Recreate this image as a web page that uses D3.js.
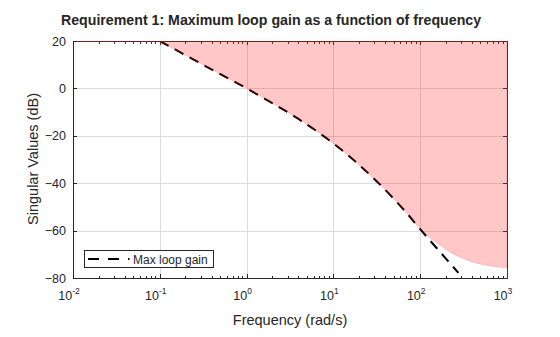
<!DOCTYPE html>
<html>
<head>
<meta charset="utf-8">
<script src="https://cdn.jsdelivr.net/npm/d3@7"></script>
<style>
  body { margin: 0; background: #fff; }
  text { font-family: "Liberation Sans", Arial, Helvetica, sans-serif; fill: #262626; }
</style>
</head>
<body>
<div class="chart"></div>
<script>
var values = { width: 560, height: 337, left: 73, right: 507, top: 41, bottom: 278 };

// frequency grid (rad/s) and the gain bound (dB) - lower edge of the shaded region
var boundFreq = [0.1, 0.3, 1, 2, 4, 7, 10, 15, 20, 30, 50, 70, 100, 130, 170, 220, 300, 400, 550, 750, 1000];
var boundDb   = [20, 10.4, 0, -6.3, -13, -19, -23.2, -28.4, -32.4, -38.4, -46.7, -52.6, -59.2, -63.1, -66.2, -69, -71.5, -73.2, -74.5, -75.3, -75.7];

// max loop gain curve (dashed)
var gainFreq = [0.1, 0.3, 1, 2, 4, 7, 10, 15, 20, 30, 50, 70, 100, 150, 200, 275];
var gainDb   = [20, 10.4, 0, -6.3, -13, -19, -23.2, -28.4, -32.4, -38.4, -46.7, -52.6, -59.4, -66.8, -72.0, -77.8];

// ticks
var xTicks = [1e-2, 1e-1, 1, 10, 100, 1000];
var xExp = ["-2", "-1", "0", "1", "2", "3"];
var yTicks = [20, 0, -20, -40, -60, -80];

var labelTitle = "Requirement 1: Maximum loop gain as a function of frequency";
var labelX = "Frequency (rad/s)";
var labelY = "Singular Values (dB)";
var legendLabel = "Max loop gain";

var x = d3.scaleLog().domain([1e-2, 1e3]).range([values.left, values.right]);
var y = d3.scaleLinear().domain([-80, 20]).range([values.bottom, values.top]);

var svg = d3.select(".chart").append("svg")
  .attr("width", values.width)
  .attr("height", values.height);

svg.append("defs").append("clipPath").attr("id", "clip")
  .append("rect")
  .attr("x", values.left).attr("y", values.top)
  .attr("width", values.right - values.left)
  .attr("height", values.bottom - values.top);

// grid
var grid = svg.append("g").attr("class", "grid");
grid.selectAll(".gx").data(xTicks).enter().append("line")
  .attr("x1", d => Math.round(x(d)) + 0.5).attr("x2", d => Math.round(x(d)) + 0.5)
  .attr("y1", values.top).attr("y2", values.bottom)
  .attr("stroke", "#dcdcdc").attr("stroke-width", 1);
grid.selectAll(".gy").data(yTicks).enter().append("line")
  .attr("y1", d => Math.round(y(d)) + 0.5).attr("y2", d => Math.round(y(d)) + 0.5)
  .attr("x1", values.left).attr("x2", values.right)
  .attr("stroke", "#dcdcdc").attr("stroke-width", 1);

// max loop gain line
var gainData = gainFreq.map((f, i) => ({ f: f, v: gainDb[i] }));
var line = d3.line().curve(d3.curveMonotoneX).x(d => x(d.f)).y(d => y(d.v));
svg.append("path")
  .datum(gainData)
  .attr("clip-path", "url(#clip)")
  .attr("d", line)
  .attr("fill", "none")
  .attr("stroke", "#000")
  .attr("stroke-width", 2)
  .attr("stroke-dasharray", "10,7");

// shaded region above the bound (drawn on top, semi transparent)
var boundData = boundFreq.map((f, i) => ({ f: f, v: boundDb[i] }));
var area = d3.area().curve(d3.curveMonotoneX).x(d => x(d.f)).y0(y(20)).y1(d => y(d.v));
svg.append("path")
  .datum(boundData)
  .attr("clip-path", "url(#clip)")
  .attr("d", area)
  .attr("fill", "rgb(255,0,0)")
  .attr("fill-opacity", 0.22)
  .attr("stroke", "rgb(255,0,0)")
  .attr("stroke-opacity", 0.15)
  .attr("stroke-width", 1);

// axes (ticks pointing inside)
var minorX = x.ticks().filter(d => xTicks.indexOf(d) < 0);

function styleAxis(g, color) {
  g.select(".domain").attr("stroke", color).attr("stroke-width", 1);
  g.selectAll(".tick line").attr("stroke", color);
  g.attr("shape-rendering", "crispEdges");
}

// bottom
var xAxis = d3.axisBottom(x).tickValues(xTicks).tickSizeInner(-4).tickSizeOuter(0).tickFormat("");
var gx = svg.append("g").attr("transform", "translate(0," + values.bottom + ")").call(xAxis);
styleAxis(gx, "#262626");
gx.selectAll(".tick text").remove();
gx.selectAll(".minor").data(minorX).enter().append("line")
  .attr("x1", d => x(d)).attr("x2", d => x(d))
  .attr("y1", 0).attr("y2", -2.5)
  .attr("stroke", "#262626");
var xl = gx.selectAll(".xlab").data(xTicks).enter().append("text")
  .attr("x", d => x(d) - 4)
  .attr("y", 22)
  .attr("text-anchor", "middle")
  .style("font-size", "12.5px");
xl.append("tspan").text("10");
xl.append("tspan").attr("dy", -6).style("font-size", "8.5px").text((d, i) => xExp[i]);

// top
var xAxisTop = d3.axisTop(x).tickValues(xTicks).tickSizeInner(-4).tickSizeOuter(0).tickFormat("");
var gxt = svg.append("g").attr("transform", "translate(0," + values.top + ")").call(xAxisTop);
styleAxis(gxt, "#6e2323");
gxt.selectAll(".minor").data(minorX).enter().append("line")
  .attr("x1", d => x(d)).attr("x2", d => x(d))
  .attr("y1", 0).attr("y2", 2.5)
  .attr("stroke", "#6e2323");

// left
var yAxis = d3.axisLeft(y).tickValues(yTicks).tickSizeInner(-4).tickSizeOuter(0).tickPadding(7);
var gy = svg.append("g").attr("transform", "translate(" + values.left + ",0)").call(yAxis);
styleAxis(gy, "#262626");
gy.selectAll(".tick text")
  .attr("fill", "#262626")
  .style("font-size", "12.5px")
  .style("font-family", "'Liberation Sans', Arial, sans-serif");

// right
var yAxisRight = d3.axisRight(y).tickValues(yTicks).tickSizeInner(-4).tickSizeOuter(0).tickFormat("");
var gyr = svg.append("g").attr("transform", "translate(" + values.right + ",0)").call(yAxisRight);
styleAxis(gyr, "#6e2323");

// legend
var lg = svg.append("g").attr("class", "legend");
lg.append("rect")
  .attr("x", 84.5).attr("y", 250.5)
  .attr("width", 129).attr("height", 17)
  .attr("fill", "#fff").attr("stroke", "#262626").attr("stroke-width", 1);
lg.append("line")
  .attr("x1", 88).attr("x2", 129.5)
  .attr("y1", 259).attr("y2", 259)
  .attr("stroke", "#000").attr("stroke-width", 2)
  .attr("stroke-dasharray", "11,9");
lg.append("text")
  .attr("x", 133).attr("y", 263.5)
  .style("font-size", "12px")
  .text(legendLabel);

// titles
svg.append("text")
  .attr("x", 271).attr("y", 25)
  .attr("text-anchor", "middle")
  .style("font-size", "14.2px")
  .style("font-weight", "bold")
  .text(labelTitle);

svg.append("text")
  .attr("x", 290).attr("y", 325)
  .attr("text-anchor", "middle")
  .style("font-size", "14.5px")
  .text(labelX);

svg.append("text")
  .attr("transform", "translate(38," + 159 + ") rotate(-90)")
  .attr("text-anchor", "middle")
  .style("font-size", "14.5px")
  .text(labelY);
</script>
</body>
</html>
